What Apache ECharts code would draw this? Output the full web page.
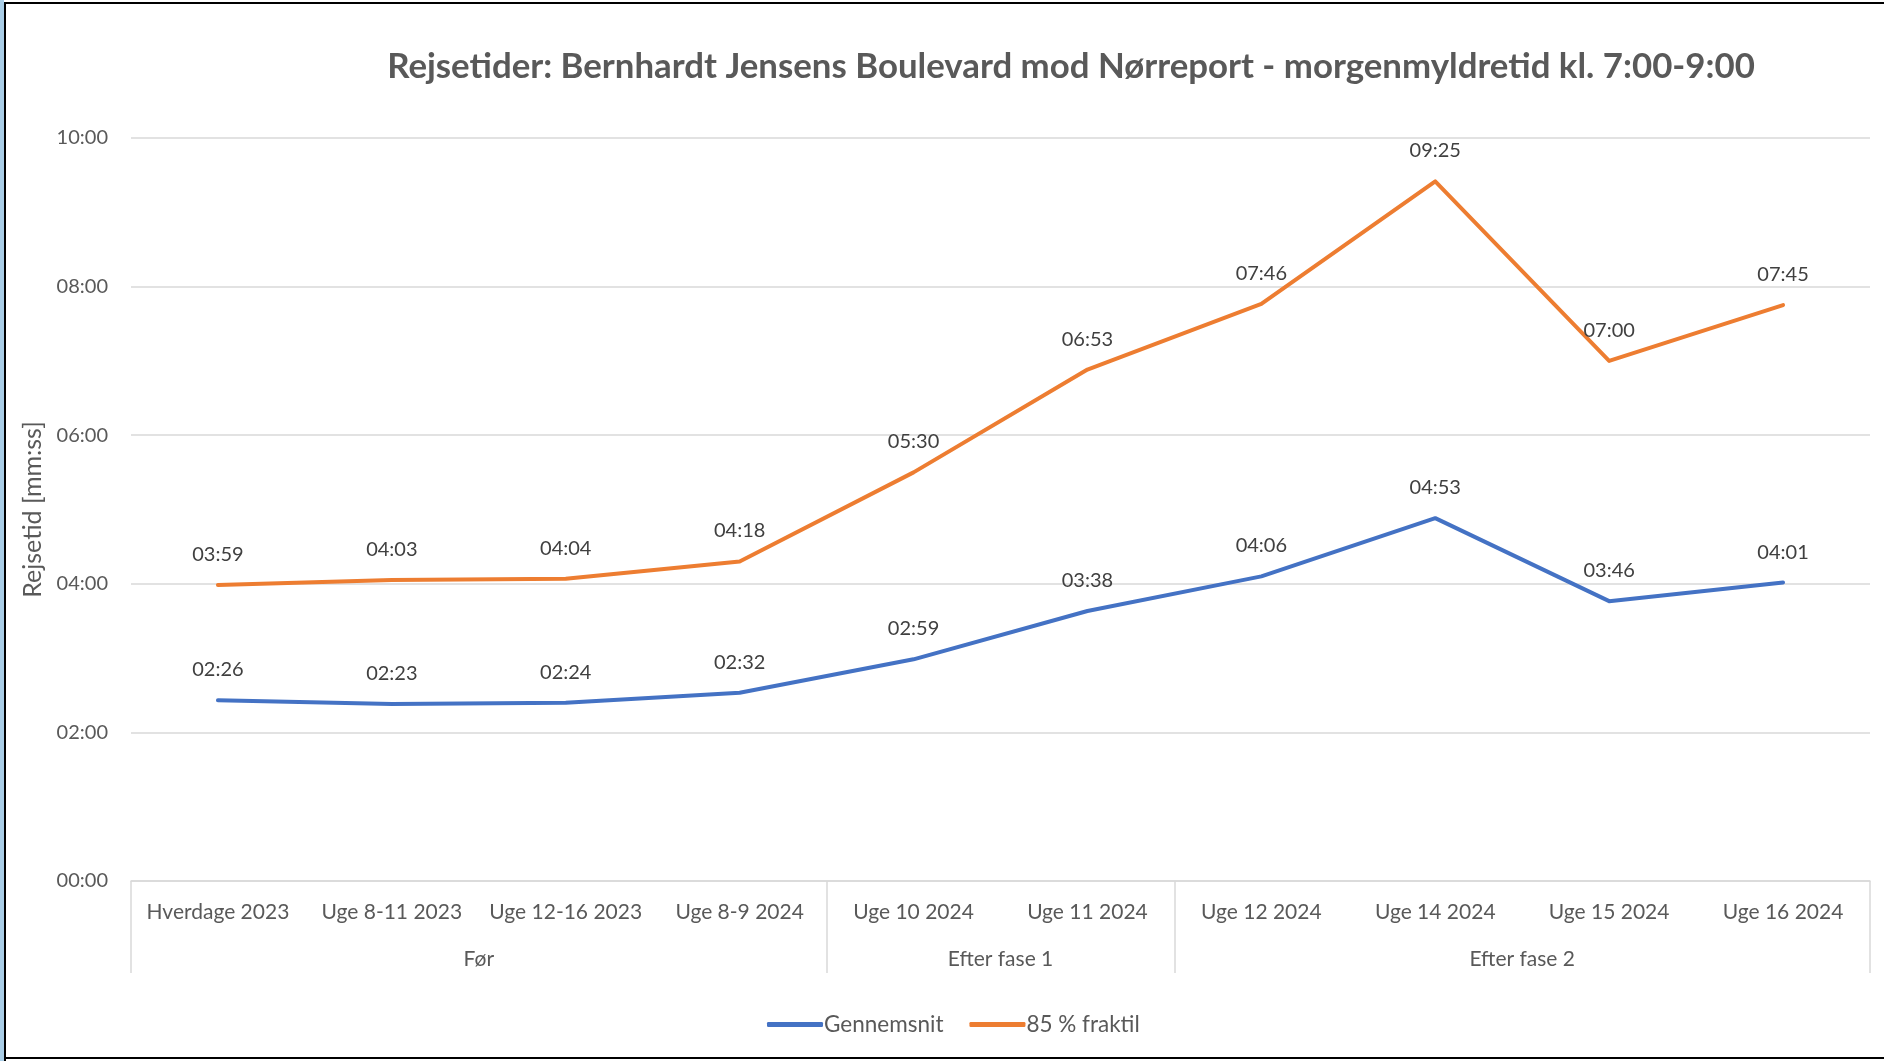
<!DOCTYPE html>
<html>
<head>
<meta charset="utf-8">
<script src="https://cdn.jsdelivr.net/npm/echarts@6/dist/echarts.min.js"></script>
<style>
html,body{margin:0;padding:0;background:#fff;width:1884px;height:1061px;overflow:hidden;}
#chart{position:absolute;left:0;top:0;width:1884px;height:1061px;}
.strip{position:absolute;left:0;top:0;width:4px;height:1061px;background:#a9cde6;}
.bl{position:absolute;left:4px;top:2px;width:2px;height:1059px;background:#000;}
.bt{position:absolute;left:4px;top:2px;width:1880px;height:2px;background:#000;}
.bb{position:absolute;left:4px;top:1057px;width:1880px;height:2px;background:#000;}
</style>
</head>
<body>
<div id="chart"></div>
<div class="strip"></div><div class="bl"></div><div class="bt"></div><div class="bb"></div>
<script>
// Categories
const categories = ['Hverdage 2023','Uge 8-11 2023','Uge 12-16 2023','Uge 8-9 2024','Uge 10 2024','Uge 11 2024','Uge 12 2024','Uge 14 2024','Uge 15 2024','Uge 16 2024'];
// Group labels and their sizes (number of categories)
const groupNames = ['Før','Efter fase 1','Efter fase 2'];
const groupSizes = [4, 2, 4];
// Values in seconds (mm:ss)
const gennemsnit = [146, 143, 144, 152, 179, 218, 246, 293, 226, 241];   // 02:26 ... 04:01
const fraktil85  = [239, 243, 244, 258, 330, 413, 466, 565, 420, 465];   // 03:59 ... 07:45
// Y axis ticks (seconds)
const yMin = 0, yMax = 600, yStep = 120;

function mmss(v){
  const m = Math.floor(v/60), s = Math.round(v%60);
  return String(m).padStart(2,'0') + ':' + String(s).padStart(2,'0');
}

// Build boundary axis for group labels: positions 0..N
const N = categories.length;
const boundaryKeys = [];
for (let i = 0; i <= N; i++) boundaryKeys.push('b' + i);
const labelAt = {}; const tickAt = {0:true};
let acc = 0;
groupSizes.forEach((sz, gi) => {
  labelAt[acc + sz/2] = groupNames[gi];
  acc += sz;
  tickAt[acc] = true;
});

const FONT = 'Lato';
const chart = echarts.init(document.getElementById('chart'), null, {renderer:'canvas'});
chart.setOption({
  animation: false,
  backgroundColor: 'transparent',
  textStyle: {fontFamily: FONT},
  title: {
    text: 'Rejsetider: Bernhardt Jensens Boulevard mod Nørreport - morgenmyldretid kl. 7:00-9:00',
    left: 1066, top: 44, textAlign: 'center',
    textStyle: {fontFamily: FONT, fontSize: 34.8, fontWeight: 'bold', color: '#595959'}
  },
  legend: {
    top: 1008, left: 762,
    icon: 'roundRect', itemWidth: 56, itemHeight: 5, itemGap: 26,
    textStyle: {fontFamily: FONT, fontSize: 22.5, color: '#595959', padding: [0,0,0,-4]},
    data: [
      {name: 'Gennemsnit', itemStyle: {color: '#4472C4'}},
      {name: '85 % fraktil', itemStyle: {color: '#ED7D31'}}
    ]
  },
  grid: {left: 131, right: 14, top: 138, bottom: 180, containLabel: false},
  xAxis: [
    {
      type: 'category', data: categories, boundaryGap: true,
      axisLine: {show: true, lineStyle: {color: '#d9d9d9', width: 1.5}},
      axisTick: {show: false},
      axisLabel: {interval: 0, margin: 21, fontSize: 21, color: '#595959', fontFamily: FONT}
    },
    {
      type: 'category', data: boundaryKeys, boundaryGap: false, position: 'bottom',
      axisLine: {show: false},
      axisTick: {show: true, length: 92, interval: (i) => !!tickAt[i], lineStyle: {color: '#d9d9d9', width: 1.5}},
      axisLabel: {interval: 0, margin: 68, fontSize: 21, color: '#595959', fontFamily: FONT,
        formatter: (v, i) => labelAt[i] || ''},
      splitLine: {show: false}
    }
  ],
  yAxis: {
    type: 'value', min: yMin, max: yMax, interval: yStep,
    name: 'Rejsetid [mm:ss]', nameLocation: 'middle', nameGap: 84, nameRotate: 90,
    nameTextStyle: {fontFamily: FONT, fontSize: 25, color: '#595959', fontWeight: 'normal'},
    axisLine: {show: false}, axisTick: {show: false},
    axisLabel: {formatter: mmss, fontSize: 20, color: '#595959', margin: 23, fontFamily: FONT},
    splitLine: {lineStyle: {color: '#d9d9d9', width: 1.5}}
  },
  series: [
    {
      name: 'Gennemsnit', type: 'line', data: gennemsnit, xAxisIndex: 0,
      symbol: 'circle', symbolSize: 1, showSymbol: true,
      lineStyle: {color: '#4472C4', width: 4, cap: 'round', join: 'round'},
      itemStyle: {color: '#4472C4'},
      label: {show: true, position: 'top', distance: 20, formatter: p => mmss(p.value),
        fontSize: 20, color: '#404040', fontFamily: FONT}
    },
    {
      name: '85 % fraktil', type: 'line', data: fraktil85, xAxisIndex: 0,
      symbol: 'circle', symbolSize: 1, showSymbol: true,
      lineStyle: {color: '#ED7D31', width: 4, cap: 'round', join: 'round'},
      itemStyle: {color: '#ED7D31'},
      label: {show: true, position: 'top', distance: 20, formatter: p => mmss(p.value),
        fontSize: 20, color: '#404040', fontFamily: FONT}
    }
  ]
});
</script>
</body>
</html>
